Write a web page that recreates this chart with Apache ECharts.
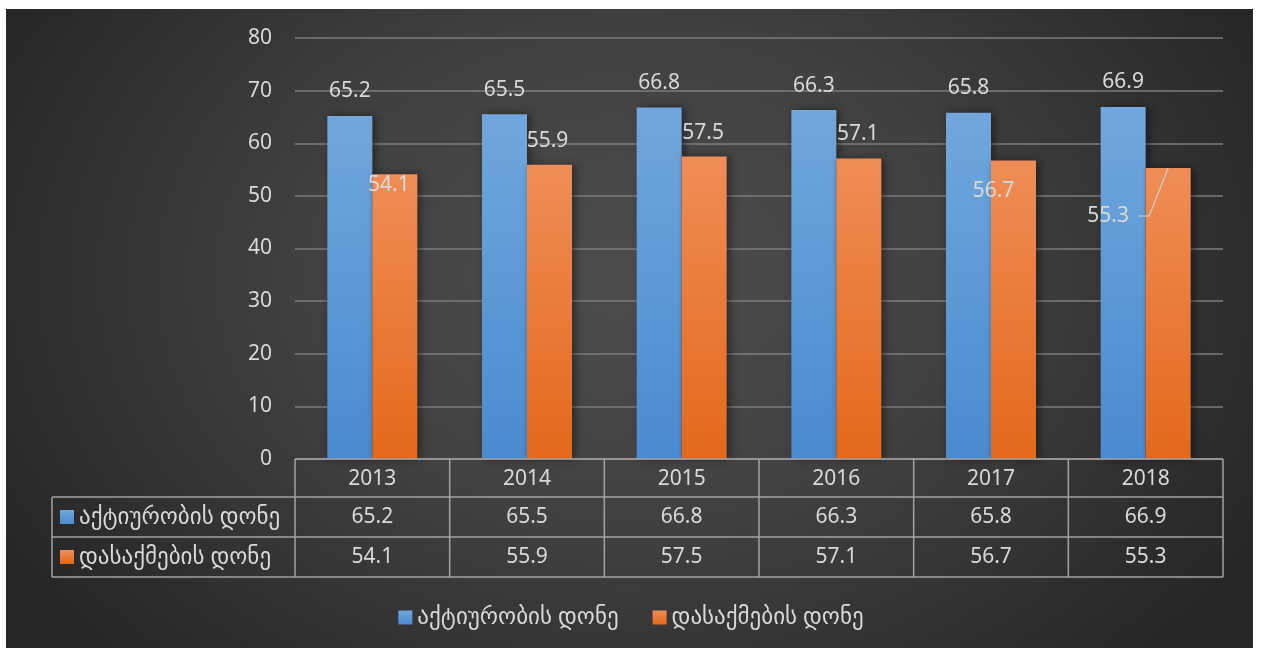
<!DOCTYPE html>
<html>
<head>
<meta charset="utf-8">
<script src="https://cdn.jsdelivr.net/npm/echarts@6/dist/echarts.min.js"></script>
<style>
  html, body { margin: 0; padding: 0; background: #ffffff; }
  #bg { position: absolute; left: 6px; top: 9px; width: 1247px; height: 639px;
        background: radial-gradient(ellipse 58% 85% at 50% 42%, #4d4d4d 0%, #414141 45%, #262626 100%); }
  #main { position: absolute; left: 0; top: 0; width: 1262px; height: 648px; }
</style>
</head>
<body>
<div id="bg"></div>
<div id="main"></div>
<script>
// ---- data ----
const categories = ['2013', '2014', '2015', '2016', '2017', '2018'];
const activityRate = [65.2, 65.5, 66.8, 66.3, 65.8, 66.9];
const employmentRate = [54.1, 55.9, 57.5, 57.1, 56.7, 55.3];
const seriesNames = ['აქტიურობის დონე', 'დასაქმების დონე'];
const yMin = 0, yMax = 80, yStep = 10;

// ---- styling (label displacement of the orange labels as in the source) ----
const orangeLabelOffsets = [[-6, 35], [-2, 1], [-1, 1.5], [-1, 0.5], [-20, 55], [-60, 73]];
const FONT = "'Noto Sans', 'DejaVu Sans', sans-serif";
const NUM = 21, GEO = 23;
const TXT = '#d9d9d9';
const LINE = '#a3a3a3';
const blueGrad = new echarts.graphic.LinearGradient(0, 0, 0, 1, [
  { offset: 0, color: '#71a7dd' }, { offset: 1, color: '#4a8bcf' }]);
const orangeGrad = new echarts.graphic.LinearGradient(0, 0, 0, 1, [
  { offset: 0, color: '#f08d57' }, { offset: 1, color: '#e3691a' }]);

const chart = echarts.init(document.getElementById('main'), null, { renderer: 'canvas' });

const option = {
  backgroundColor: 'transparent',
  animation: false,
  textStyle: { fontFamily: FONT },
  grid: { left: 295, right: 39, top: 38, bottom: 189, containLabel: false },
  legend: {
    data: [
      { name: seriesNames[0], itemStyle: { color: blueGrad } },
      { name: seriesNames[1], itemStyle: { color: orangeGrad } }
    ],
    left: 'center', top: 601,
    icon: 'rect', itemWidth: 14, itemHeight: 14, itemGap: 34,
    textStyle: { color: TXT, fontSize: GEO, fontFamily: FONT }
  },
  xAxis: {
    type: 'category', data: categories,
    axisLine: { show: false }, axisTick: { show: false },
    axisLabel: { color: TXT, fontSize: NUM, margin: 10, fontFamily: FONT }
  },
  yAxis: {
    type: 'value', min: yMin, max: yMax, interval: yStep,
    axisLine: { show: false }, axisTick: { show: false },
    axisLabel: { color: TXT, fontSize: NUM, margin: 23, fontFamily: FONT },
    splitLine: { lineStyle: { color: '#7c7c7c', width: 1.6 } }
  },
  series: [
    {
      name: seriesNames[0], type: 'bar', barWidth: 45, barGap: '0%',
      data: activityRate,
      itemStyle: { color: blueGrad, shadowColor: 'rgba(0,0,0,0.45)', shadowBlur: 8, shadowOffsetX: 3 },
      label: { show: true, position: 'top', distance: 14, color: TXT, fontSize: NUM, fontFamily: FONT }
    },
    {
      name: seriesNames[1], type: 'bar', barWidth: 45, barGap: '0%',
      data: employmentRate.map((v, i) => ({ value: v, label: { offset: orangeLabelOffsets[i] } })),
      itemStyle: { color: orangeGrad, shadowColor: 'rgba(0,0,0,0.45)', shadowBlur: 8, shadowOffsetX: 3 },
      label: { show: true, position: 'top', distance: 14, color: TXT, fontSize: NUM, fontFamily: FONT }
    }
  ]
};
chart.setOption(option);

// ---- data table under the axis, positioned through the axis scale ----
function buildTable() {
  const g = [];
  const y0 = chart.convertToPixel({ yAxisIndex: 0 }, 0);
  const c0 = chart.convertToPixel({ xAxisIndex: 0 }, 0);
  const c1 = chart.convertToPixel({ xAxisIndex: 0 }, 1);
  const band = c1 - c0;
  const leftX = c0 - band / 2;
  const rightX = chart.convertToPixel({ xAxisIndex: 0 }, categories.length - 1) + band / 2;
  const rowH = [38, 40, 40];
  const r1 = y0 + rowH[0], r2 = r1 + rowH[1], r3 = r2 + rowH[2];
  const tableLeft = 52;
  const ls = { stroke: LINE, lineWidth: 1.5 };
  const line = (x1, y1, x2, y2) => g.push({ type: 'line', shape: { x1, y1, x2, y2 }, style: ls, silent: true, z: 5 });
  line(leftX, y0, rightX, y0);
  line(tableLeft, r1, rightX, r1);
  line(tableLeft, r2, rightX, r2);
  line(tableLeft, r3, rightX, r3);
  line(tableLeft, r1, tableLeft, r3);
  for (let i = 0; i <= categories.length; i++) {
    const x = leftX + i * band;
    line(x, y0, x, r3);
  }
  const rows = [activityRate, employmentRate];
  const keys = [blueGrad, orangeGrad];
  rows.forEach((arr, r) => {
    const yc = (r === 0 ? (r1 + r2) / 2 : (r2 + r3) / 2);
    g.push({ type: 'rect', shape: { x: 60, y: yc - 7, width: 14, height: 14 }, style: { fill: keys[r] }, z: 5 });
    g.push({ type: 'text', x: 79, y: yc, style: { text: seriesNames[r], fill: TXT, font: GEO + 'px ' + FONT, textVerticalAlign: 'middle', verticalAlign: 'middle' }, z: 5 });
    arr.forEach((v, i) => {
      const xc = chart.convertToPixel({ xAxisIndex: 0 }, i);
      g.push({ type: 'text', x: xc, y: yc, style: { text: String(v), fill: TXT, font: NUM + 'px ' + FONT, align: 'center', textAlign: 'center', verticalAlign: 'middle', textVerticalAlign: 'middle' }, z: 5 });
    });
  });
  // leader line of the displaced 2018 orange label
  const data = chart.getModel().getSeriesByIndex(1).getData();
  const idx = categories.length - 1;
  const lay = data.getItemLayout(idx);
  const topX = lay.x + lay.width / 2;
  const topY = Math.min(lay.y, lay.y + lay.height);
  const lblY = topY - 24 + orangeLabelOffsets[idx][1] - 1;
  const lblRight = topX + orangeLabelOffsets[idx][0] + 21;
  g.push({ type: 'polyline', shape: { points: [[lblRight + 9, lblY], [lblRight + 20, lblY], [topX, topY]] },
           style: { stroke: '#cfcfcf', lineWidth: 1.2, fill: null }, silent: true, z: 6 });
  chart.setOption({ graphic: g });
}
buildTable();
</script>
</body>
</html>
